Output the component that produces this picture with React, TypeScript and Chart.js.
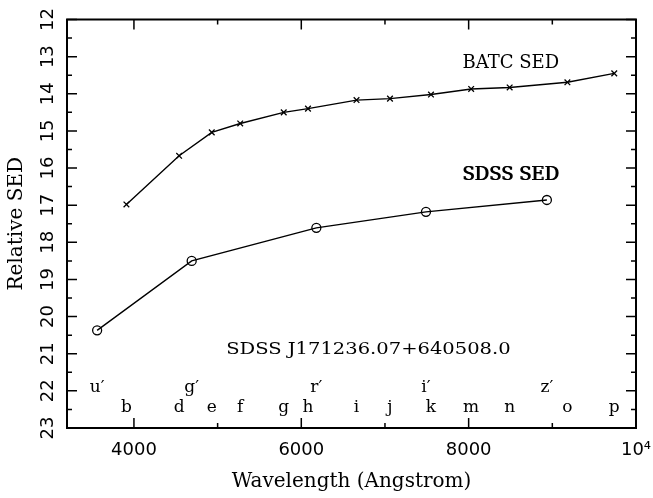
import React, { useEffect, useRef } from "react";
import { Chart, registerables } from "chart.js";

Chart.register(...registerables);

// BATC photometry (Angstrom, relative magnitude)
const batcWave = [3910, 4540, 4930, 5270, 5790, 6080, 6660, 7060, 7550, 8030, 8490, 9180, 9740];
const batcMag = [16.98, 15.67, 15.04, 14.8, 14.5, 14.4, 14.17, 14.13, 14.02, 13.87, 13.83, 13.69, 13.45];
const batcFilters = ["b", "d", "e", "f", "g", "h", "i", "j", "k", "m", "n", "o", "p"];

// SDSS photometry
const sdssWave = [3560, 4690, 6180, 7490, 8935];
const sdssMag = [20.37, 18.5, 17.61, 17.18, 16.86];
const sdssFilters = ["u\u2032", "g\u2032", "r\u2032", "i\u2032", "z\u2032"];

// Axes
const xMin = 3200;
const xMax = 10000;
const yMin = 12;
const yMax = 23;
const xMajorTicks = [4000, 6000, 8000, 10000];
const xTickLabels = ["4000", "6000", "8000", "10\u2074"];
const xMinorTicks = [5000, 7000, 9000];
const yMajorTicks = [12, 13, 14, 15, 16, 17, 18, 19, 20, 21, 22, 23];
const yMinorTicks = [12.5, 13.5, 14.5, 15.5, 16.5, 17.5, 18.5, 19.5, 20.5, 21.5, 22.5];

const xTitle = "Wavelength (Angstrom)";
const yTitle = "Relative SED";
const batcText = "BATC SED";
const sdssText = "SDSS SED";
const objectText = "SDSS J171236.07+640508.0";

// annotation anchors (data coordinates)
const batcTextAt = { x: 8504, y: 13.3 };
const sdssTextAt = { x: 8504, y: 16.31 };
const objectTextAt = { x: 6802, y: 21.0 };
const sdssRowY = 22.03;
const batcRowY = 22.57;

const SERIF = "'DejaVu Serif', serif";
const SANS = "'DejaVu Sans', sans-serif";

const framePlugin = {
  id: "framePlugin",
  afterDraw(chart: any) {
    const { ctx, chartArea: a, scales } = chart;
    const x = scales.x;
    const y = scales.y;
    ctx.save();
    ctx.strokeStyle = "#000";
    ctx.fillStyle = "#000";

    // frame
    ctx.lineWidth = 2;
    ctx.strokeRect(a.left, a.top, a.right - a.left, a.bottom - a.top);

    // ticks
    ctx.lineWidth = 1.5;
    const vt = (v: number, len: number) => {
      const px = x.getPixelForValue(v);
      ctx.beginPath();
      ctx.moveTo(px, a.bottom);
      ctx.lineTo(px, a.bottom - len);
      ctx.moveTo(px, a.top);
      ctx.lineTo(px, a.top + len);
      ctx.stroke();
    };
    const ht = (v: number, len: number) => {
      const py = y.getPixelForValue(v);
      ctx.beginPath();
      ctx.moveTo(a.left, py);
      ctx.lineTo(a.left + len, py);
      ctx.moveTo(a.right, py);
      ctx.lineTo(a.right - len, py);
      ctx.stroke();
    };
    xMajorTicks.forEach((v) => vt(v, 10));
    xMinorTicks.forEach((v) => vt(v, 5));
    yMajorTicks.forEach((v) => ht(v, 10));
    yMinorTicks.forEach((v) => ht(v, 5));

    // y tick labels (rotated)
    ctx.font = `18px ${SANS}`;
    ctx.textAlign = "center";
    ctx.textBaseline = "alphabetic";
    yMajorTicks.forEach((v) => {
      const py = y.getPixelForValue(v);
      ctx.save();
      ctx.translate(a.left - 14, py);
      ctx.rotate(-Math.PI / 2);
      ctx.fillText(String(v), 0, 0);
      ctx.restore();
    });

    // axis titles
    ctx.font = `20px ${SERIF}`;
    ctx.save();
    ctx.translate(a.left - 45, (a.top + a.bottom) / 2);
    ctx.rotate(-Math.PI / 2);
    ctx.fillText(yTitle, 0, 0);
    ctx.restore();
    ctx.fillText(xTitle, (a.left + a.right) / 2, a.bottom + 59);

    // annotations
    ctx.font = `18px ${SERIF}`;
    ctx.fillText(batcText, x.getPixelForValue(batcTextAt.x), y.getPixelForValue(batcTextAt.y));
    const sx = x.getPixelForValue(sdssTextAt.x);
    const sy = y.getPixelForValue(sdssTextAt.y);
    ctx.fillText(sdssText, sx - 0.5, sy);
    ctx.fillText(sdssText, sx + 0.5, sy);

    ctx.save();
    ctx.font = `16px ${SERIF}`;
    ctx.translate(x.getPixelForValue(objectTextAt.x), y.getPixelForValue(objectTextAt.y));
    ctx.scale(1.22, 1);
    ctx.fillText(objectText, 0, 0);
    ctx.restore();

    // filter letters
    ctx.font = `17px ${SERIF}`;
    sdssFilters.forEach((f, i) => {
      ctx.fillText(f, x.getPixelForValue(sdssWave[i]), y.getPixelForValue(sdssRowY));
    });
    batcFilters.forEach((f, i) => {
      ctx.fillText(f, x.getPixelForValue(batcWave[i]), y.getPixelForValue(batcRowY));
    });

    ctx.restore();
  },
};

export default function App() {
  const canvasRef = useRef<HTMLCanvasElement | null>(null);

  useEffect(() => {
    if (!canvasRef.current) return;
    const chart = new Chart(canvasRef.current, {
      type: "line",
      data: {
        datasets: [
          {
            label: "BATC SED",
            data: batcWave.map((w, i) => ({ x: w, y: batcMag[i] })),
            borderColor: "#000",
            borderWidth: 1.4,
            pointStyle: "crossRot",
            pointRadius: 4,
            pointBorderWidth: 1.3,
            pointBorderColor: "#000",
            backgroundColor: "rgba(0,0,0,0)",
            tension: 0,
          },
          {
            label: "SDSS SED",
            data: sdssWave.map((w, i) => ({ x: w, y: sdssMag[i] })),
            borderColor: "#000",
            borderWidth: 1.4,
            pointStyle: "circle",
            pointRadius: 4.5,
            pointBorderWidth: 1.3,
            pointBorderColor: "#000",
            pointBackgroundColor: "rgba(0,0,0,0)",
            backgroundColor: "rgba(0,0,0,0)",
            tension: 0,
          },
        ],
      },
      options: {
        animation: false,
        responsive: false,
        maintainAspectRatio: false,
        layout: { padding: { top: 19.5, right: 17, left: 0, bottom: 0 } },
        plugins: {
          legend: { display: false },
          tooltip: { enabled: false },
        },
        scales: {
          x: {
            type: "linear",
            min: xMin,
            max: xMax,
            grid: { display: false, drawTicks: false },
            border: { display: false },
            afterBuildTicks: (s: any) => {
              s.ticks = xMajorTicks.map((value) => ({ value }));
            },
            afterFit: (s: any) => {
              s.height = 70;
              s.paddingLeft = 0;
              s.paddingRight = 0;
            },
            ticks: {
              autoSkip: false,
              maxRotation: 0,
              minRotation: 0,
              padding: 12,
              color: "#000",
              font: { family: SANS, size: 18 },
              callback: (v: any) => {
                const i = xMajorTicks.indexOf(Number(v));
                return i >= 0 ? xTickLabels[i] : "";
              },
            },
          },
          y: {
            type: "linear",
            reverse: true,
            min: yMin,
            max: yMax,
            grid: { display: false, drawTicks: false },
            border: { display: false },
            ticks: { display: false, stepSize: 1 },
            afterFit: (s: any) => {
              s.width = 67;
              s.paddingTop = 0;
              s.paddingBottom = 0;
            },
          },
        },
      },
      plugins: [framePlugin],
    });
    return () => chart.destroy();
  }, []);

  return (
    <div
      style={{
        position: "fixed",
        left: 0,
        top: 0,
        width: 653,
        height: 498,
        background: "#fff",
      }}
    >
      <canvas ref={canvasRef} width={653} height={498} style={{ display: "block", width: 653, height: 498 }} />
    </div>
  );
}
